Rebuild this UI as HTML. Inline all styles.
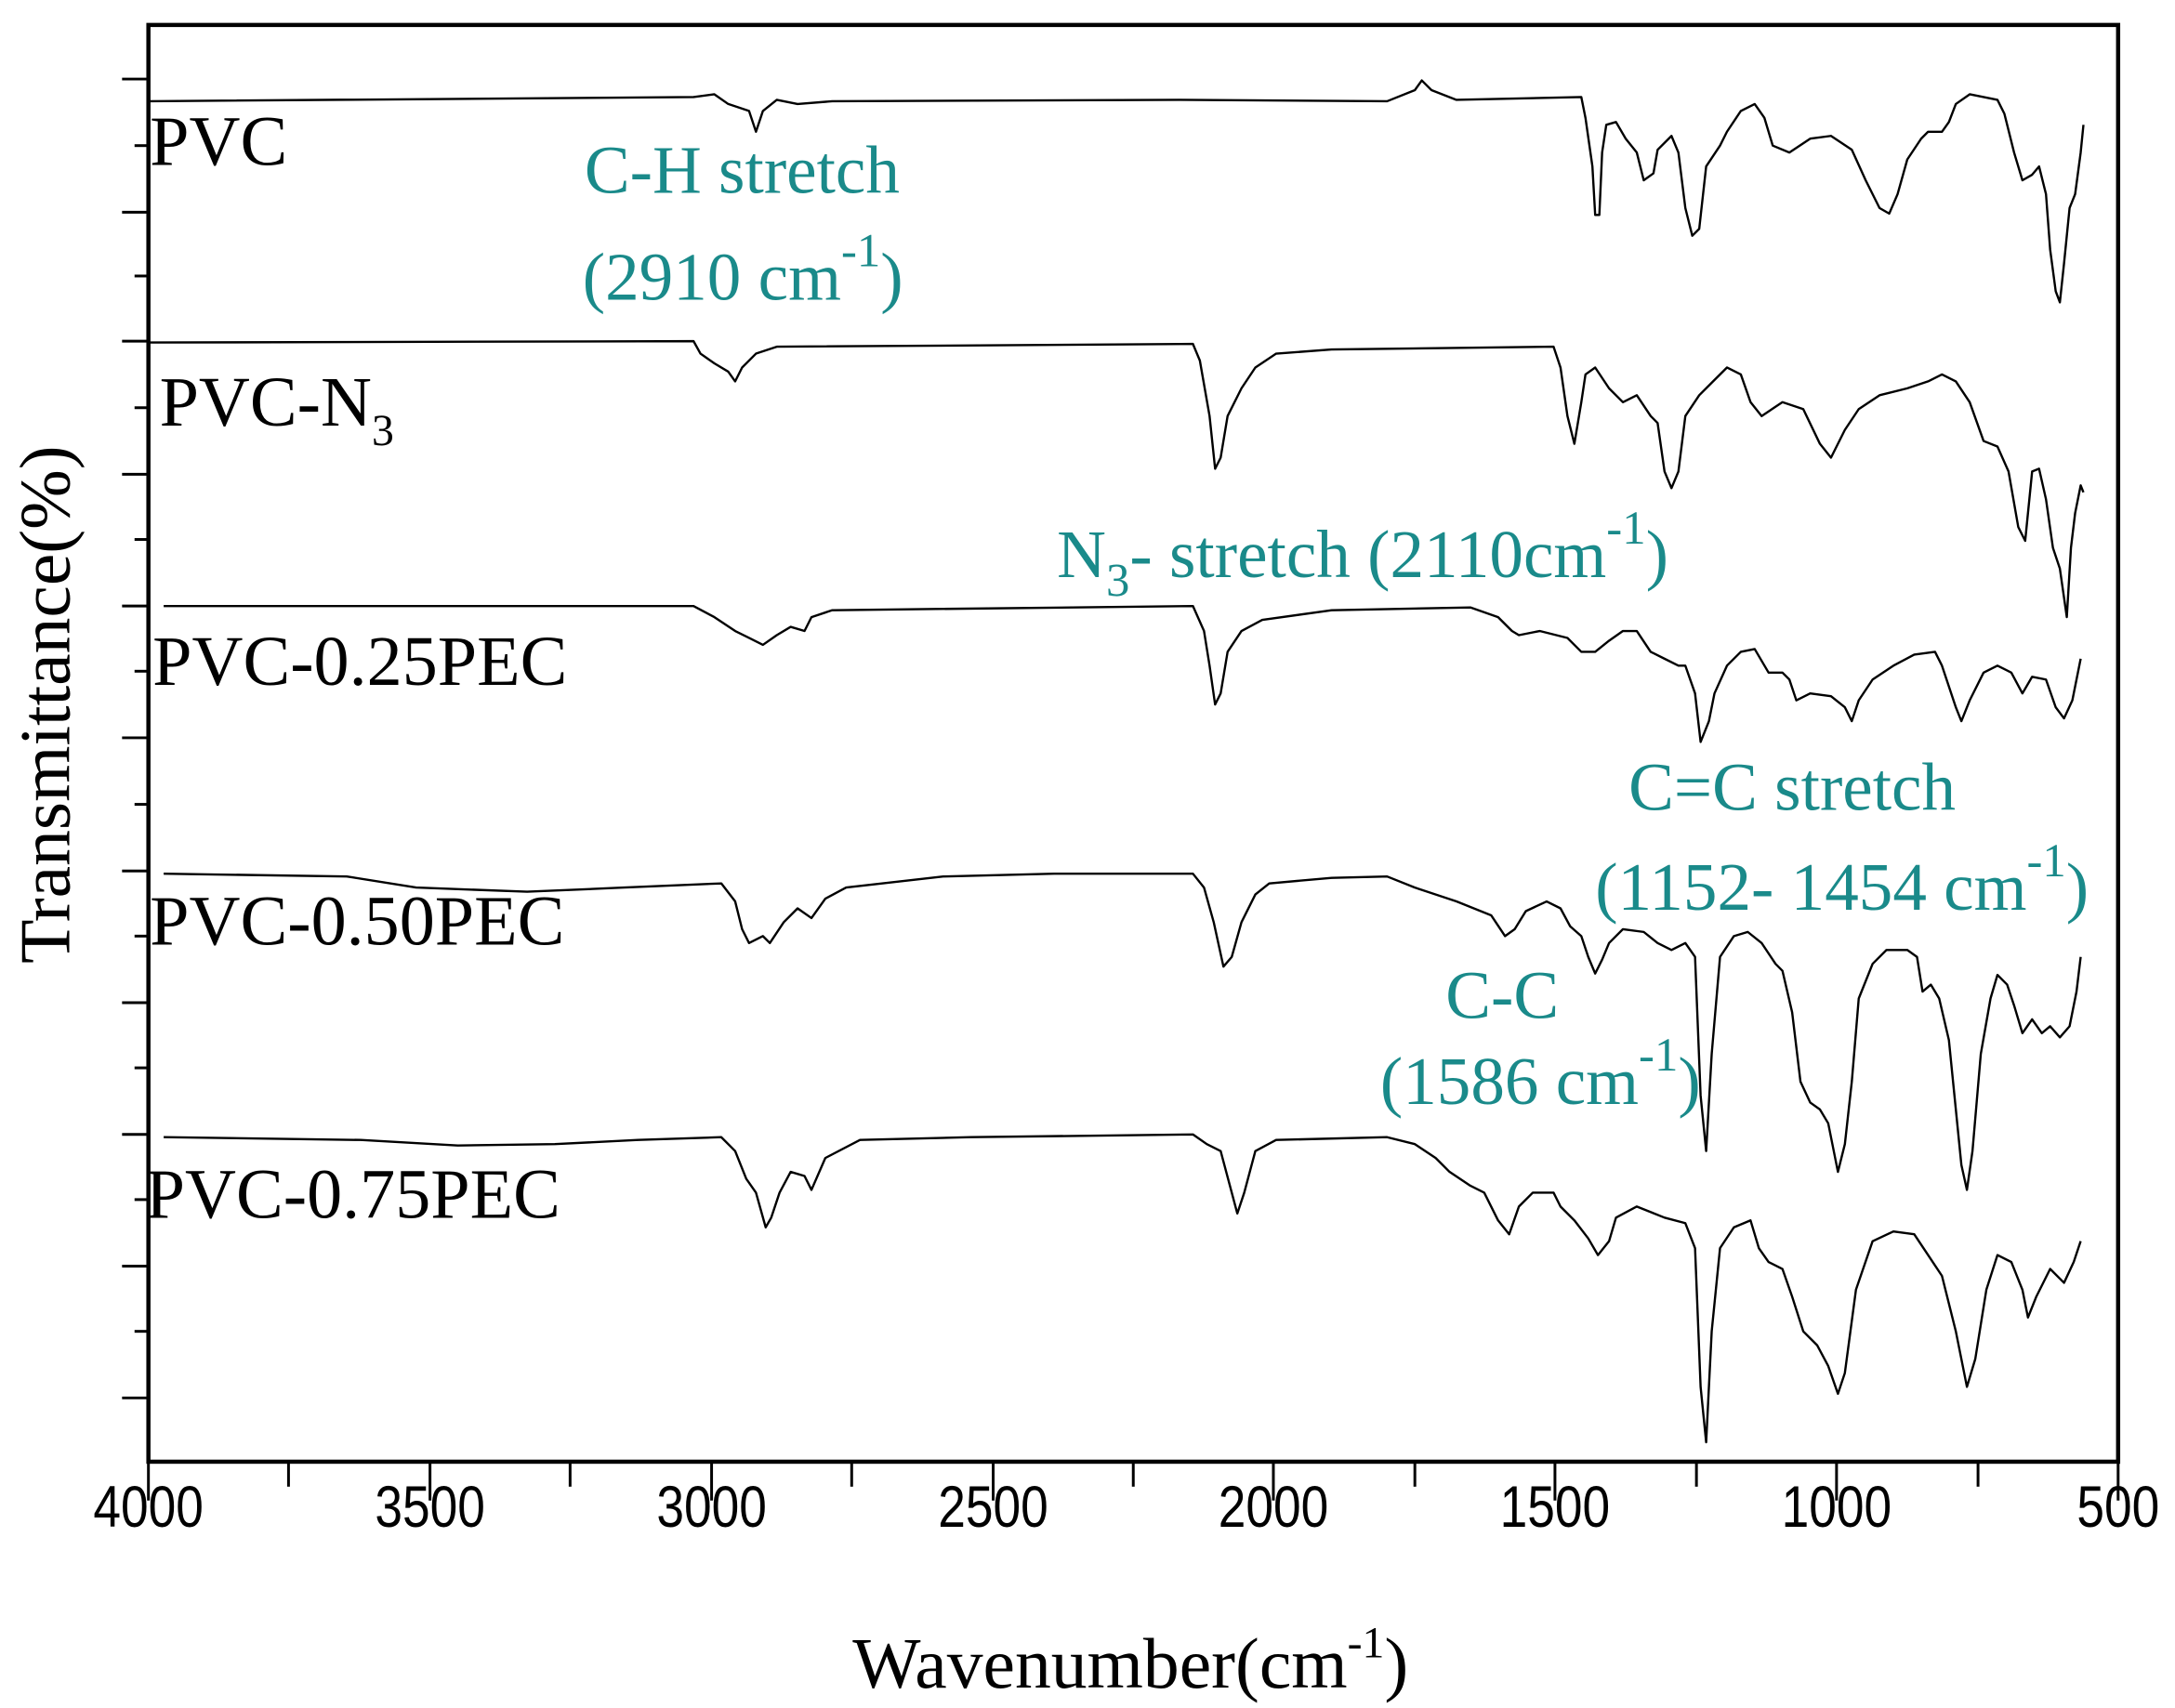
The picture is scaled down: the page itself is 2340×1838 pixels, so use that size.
<!DOCTYPE html>
<html><head><meta charset="utf-8"><style>html,body{margin:0;padding:0;background:#fff}svg{display:block}</style></head>
<body>
<svg width="2340" height="1838" viewBox="0 0 1568 1231.6" preserveAspectRatio="none" xmlns="http://www.w3.org/2000/svg">
<rect width="1568" height="1232" fill="#fff"/>
<g stroke="#000" stroke-width="3" fill="none">
<rect x="107" y="18" width="1420" height="1036"/>
</g>
<g stroke="#000" stroke-width="2">
<line x1="88" y1="57" x2="107" y2="57"/><line x1="97" y1="105" x2="107" y2="105"/>
<line x1="88" y1="153" x2="107" y2="153"/><line x1="97" y1="199" x2="107" y2="199"/>
<line x1="88" y1="246" x2="107" y2="246"/><line x1="97" y1="294" x2="107" y2="294"/>
<line x1="88" y1="342" x2="107" y2="342"/><line x1="97" y1="389" x2="107" y2="389"/>
<line x1="88" y1="437" x2="107" y2="437"/><line x1="97" y1="484" x2="107" y2="484"/>
<line x1="88" y1="532" x2="107" y2="532"/><line x1="97" y1="580" x2="107" y2="580"/>
<line x1="88" y1="628" x2="107" y2="628"/><line x1="97" y1="675" x2="107" y2="675"/>
<line x1="88" y1="723" x2="107" y2="723"/><line x1="97" y1="770" x2="107" y2="770"/>
<line x1="88" y1="818" x2="107" y2="818"/><line x1="97" y1="865" x2="107" y2="865"/>
<line x1="88" y1="913" x2="107" y2="913"/><line x1="97" y1="960" x2="107" y2="960"/>
<line x1="88" y1="1008" x2="107" y2="1008"/>
<line x1="107" y1="1054" x2="107" y2="1082"/><line x1="208" y1="1054" x2="208" y2="1072"/>
<line x1="310" y1="1054" x2="310" y2="1082"/><line x1="411" y1="1054" x2="411" y2="1072"/>
<line x1="513" y1="1054" x2="513" y2="1082"/><line x1="614" y1="1054" x2="614" y2="1072"/>
<line x1="716" y1="1054" x2="716" y2="1082"/><line x1="817" y1="1054" x2="817" y2="1072"/>
<line x1="918" y1="1054" x2="918" y2="1082"/><line x1="1020" y1="1054" x2="1020" y2="1072"/>
<line x1="1121" y1="1054" x2="1121" y2="1082"/><line x1="1223" y1="1054" x2="1223" y2="1072"/>
<line x1="1324" y1="1054" x2="1324" y2="1082"/><line x1="1426" y1="1054" x2="1426" y2="1072"/>
<line x1="1527" y1="1054" x2="1527" y2="1082"/>
</g>
<g font-family="Liberation Sans, sans-serif" font-size="42" text-anchor="middle" fill="#000">
<text transform="translate(107,1101) scale(0.85,1)">4000</text>
<text transform="translate(310,1101) scale(0.85,1)">3500</text>
<text transform="translate(513,1101) scale(0.85,1)">3000</text>
<text transform="translate(716,1101) scale(0.85,1)">2500</text>
<text transform="translate(918,1101) scale(0.85,1)">2000</text>
<text transform="translate(1121,1101) scale(0.85,1)">1500</text>
<text transform="translate(1324,1101) scale(0.85,1)">1000</text>
<text transform="translate(1527,1101) scale(0.85,1)">500</text>
</g>
<g font-family="Liberation Serif, serif" font-size="52" fill="#000">
<text x="815" y="1217" text-anchor="middle">Wavenumber(cm<tspan font-size="32" dy="-22">-1</tspan><tspan dy="22">)</tspan></text>
<text transform="translate(50,508) rotate(-90)" text-anchor="middle">Transmittance(%)</text>
</g>
<g font-family="Liberation Serif, serif" font-size="51" fill="#000">
<text x="108" y="119">PVC</text>
<text x="115" y="307">PVC-N<tspan font-size="32" dy="14">3</tspan></text>
<text x="110" y="494">PVC-0.25PEC</text>
<text x="108" y="681">PVC-0.50PEC</text>
<text x="105" y="878">PVC-0.75PEC</text>
</g>
<g font-family="Liberation Serif, serif" font-size="49" fill="#1a8a8a">
<text x="535" y="139" text-anchor="middle">C-H stretch</text>
<text x="420" y="216">(2910 cm<tspan font-size="34" dy="-24">-1</tspan><tspan dy="24">)</tspan></text>
<text x="762" y="416">N<tspan font-size="34" dy="14">3</tspan><tspan dy="-14">- stretch (2110cm</tspan><tspan font-size="34" dy="-24">-1</tspan><tspan dy="24">)</tspan></text>
<text x="1292" y="584" text-anchor="middle">C=C stretch</text>
<text x="1150" y="656">(1152- 1454 cm<tspan font-size="34" dy="-24">-1</tspan><tspan dy="24">)</tspan></text>
<text x="1083" y="734" text-anchor="middle">C-C</text>
<text x="995" y="796">(1586 cm<tspan font-size="34" dy="-24">-1</tspan><tspan dy="24">)</tspan></text>
</g>
<g stroke="#000" stroke-width="1.6" fill="none" stroke-linejoin="round">
<polyline points="108,73 500,70 515,68 525,75 540,80 545,95 550,80 560,72 575,75 600,73 850,72 1000,73 1020,65 1025,58 1032,65 1050,72 1140,70 1143,85 1148,120 1150,155 1153,155 1155,110 1158,90 1165,88 1172,100 1180,110 1185,130 1192,125 1195,108 1205,98 1210,110 1215,150 1220,170 1225,165 1230,120 1240,105 1245,95 1255,80 1265,75 1272,85 1278,105 1290,110 1305,100 1320,98 1335,108 1345,130 1355,150 1362,154 1368,140 1375,115 1385,100 1390,95 1400,95 1405,88 1410,75 1420,68 1430,70 1440,72 1445,82 1452,110 1458,130 1465,126 1470,120 1475,140 1478,180 1482,210 1485,218 1488,190 1492,150 1496,140 1500,110 1502,90"/>
<polyline points="108,247 500,246 505,255 515,262 525,268 530,275 535,265 545,255 560,250 860,248 865,260 872,300 876,338 880,330 885,300 895,280 905,265 920,255 960,252 1120,250 1125,265 1130,300 1135,320 1140,290 1143,270 1150,265 1160,280 1170,290 1180,285 1190,300 1195,305 1200,340 1205,352 1210,340 1215,300 1225,285 1235,275 1245,265 1255,270 1262,290 1270,300 1285,290 1300,295 1312,320 1320,330 1330,310 1340,295 1355,285 1375,280 1390,275 1400,270 1410,275 1420,290 1430,318 1440,322 1448,340 1455,380 1460,390 1465,340 1470,338 1475,360 1480,395 1485,410 1490,445 1493,395 1496,370 1500,350 1502,355"/>
<polyline points="118,437 500,437 515,445 530,455 540,460 550,465 560,458 570,452 580,455 585,445 600,440 860,437 868,455 872,480 876,508 880,500 885,470 895,455 910,447 960,440 1060,438 1080,445 1090,455 1095,458 1110,455 1130,460 1140,470 1150,470 1160,462 1170,455 1180,455 1190,470 1200,475 1210,480 1215,480 1222,500 1226,535 1232,520 1236,500 1245,480 1255,470 1265,468 1275,485 1285,485 1290,490 1295,505 1305,500 1320,502 1330,510 1335,520 1340,505 1350,490 1365,480 1380,472 1395,470 1400,480 1405,495 1410,510 1414,520 1420,505 1430,485 1440,480 1450,485 1458,500 1465,488 1475,490 1482,510 1488,518 1494,505 1500,475"/>
<polyline points="118,630 250,632 300,640 380,643 450,640 520,637 530,650 535,670 540,680 550,675 555,680 565,665 575,655 585,662 595,648 610,640 680,632 760,630 860,630 868,640 875,665 882,697 888,690 895,665 905,645 915,637 960,633 1000,632 1020,640 1050,650 1075,660 1085,675 1092,670 1100,657 1115,650 1125,655 1132,668 1140,675 1145,690 1150,702 1155,692 1160,680 1170,670 1185,672 1195,680 1205,685 1215,680 1222,690 1226,790 1230,830 1234,760 1240,690 1250,675 1260,672 1270,680 1280,695 1285,700 1292,730 1298,780 1305,795 1312,800 1318,810 1325,845 1330,825 1335,780 1340,720 1350,695 1360,685 1375,685 1382,690 1386,715 1392,710 1398,720 1405,750 1410,800 1414,840 1418,858 1422,830 1428,760 1435,720 1440,703 1447,710 1452,725 1458,745 1465,735 1472,745 1478,740 1485,748 1492,740 1497,715 1500,690"/>
<polyline points="118,820 260,822 330,826 400,825 460,822 520,820 530,830 538,850 545,860 552,885 556,878 562,860 570,845 580,848 585,858 595,835 620,822 700,820 860,818 870,825 880,830 888,860 892,875 897,860 905,830 920,822 1000,820 1020,825 1035,835 1045,845 1060,855 1070,860 1080,880 1088,890 1095,870 1105,860 1120,860 1125,870 1135,880 1145,893 1152,905 1160,895 1165,878 1180,870 1200,878 1215,882 1222,900 1226,1000 1230,1040 1234,960 1240,900 1250,885 1262,880 1268,900 1275,910 1285,915 1292,935 1300,960 1310,970 1318,985 1325,1005 1330,990 1338,930 1350,895 1365,888 1380,890 1390,905 1400,920 1410,960 1418,1000 1424,980 1432,930 1440,905 1450,910 1458,930 1462,950 1468,935 1478,915 1488,925 1495,910 1500,895"/>
</g>
</svg>
</body></html>
